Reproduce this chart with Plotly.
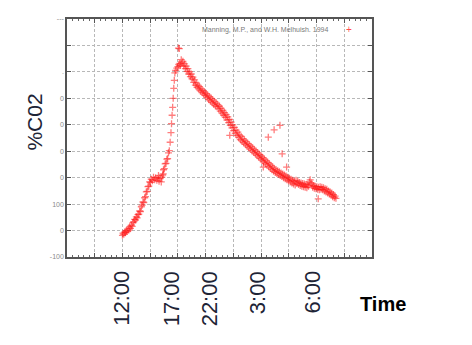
import plotly.graph_objects as go

# ---- data (x in grid units of the time axis, y in %CO2 axis units) ----
x_vals = [
    2.00, 2.02, 2.05, 2.08, 2.11, 2.14, 2.17, 2.20, 2.23, 2.26, 2.29, 2.32, 2.35, 2.38,
    2.41, 2.44, 2.47, 2.50, 2.53, 2.56, 2.59, 2.62, 2.65, 2.68, 2.71, 2.74, 2.77, 2.80,
    2.83, 2.86, 2.89, 2.92, 2.95, 2.98, 3.01, 3.04, 3.08, 3.12, 3.16, 3.20, 3.24, 3.28,
    3.32, 3.36, 3.40, 3.42, 3.45, 3.48, 3.51, 3.54, 3.57, 3.60, 3.63, 3.66, 3.69, 3.72,
    3.75, 3.77, 3.79, 3.81, 3.83, 3.85, 3.87, 3.89, 3.92, 3.96, 4.00, 4.02, 4.05, 4.03,
    4.07, 4.09, 4.12, 4.15, 4.18, 4.21, 4.24, 4.27, 4.30, 4.33, 4.36, 4.39, 4.42, 4.45,
    4.48, 4.51, 4.54, 4.57, 4.60, 4.63, 4.66, 4.69, 4.72, 4.75, 4.78, 4.81, 4.84, 4.87,
    4.90, 4.93, 4.96, 4.99, 5.02, 5.05, 5.08, 5.11, 5.14, 5.17, 5.20, 5.23, 5.26, 5.29,
    5.32, 5.35, 5.38, 5.41, 5.44, 5.47, 5.50, 5.53, 5.56, 5.59, 5.62, 5.65, 5.68, 5.71,
    5.74, 5.77, 5.80, 5.83, 5.86, 5.89, 5.92, 5.95, 5.98, 6.01, 6.04, 6.07, 6.10, 6.13,
    6.16, 6.19, 6.22, 6.25, 6.28, 6.31, 6.34, 6.37, 6.40, 6.43, 6.46, 6.49, 6.52, 6.55,
    6.58, 6.61, 6.64, 6.67, 6.70, 6.73, 6.76, 6.79, 6.82, 6.85, 6.88, 6.91, 6.94, 6.97,
    7.00, 7.03, 7.06, 7.09, 7.12, 7.15, 7.18, 7.21, 7.24, 7.27, 7.30, 7.33, 7.36, 7.39,
    7.42, 7.45, 7.48, 7.51, 7.54, 7.57, 7.60, 7.63, 7.66, 7.69, 7.72, 7.75, 7.78, 7.81,
    7.84, 7.87, 7.90, 7.93, 7.96, 7.99, 8.02, 8.05, 8.08, 8.11, 8.14, 8.17, 8.20, 8.23,
    8.26, 8.29, 8.32, 8.35, 8.38, 8.41, 8.44, 8.47, 8.50, 8.53, 8.56, 8.59, 8.62, 8.65,
    8.68, 8.71, 8.74, 8.77, 8.80, 8.83, 8.86, 8.89, 8.92, 8.95, 8.98, 9.01, 9.04, 9.07,
    9.10, 9.13, 9.16, 9.19, 9.22, 9.25, 9.28, 9.31, 9.34, 9.37, 9.40, 9.43, 9.46, 9.49,
    9.52, 9.55, 9.58, 9.61, 9.64, 9.67, 9.70,
    5.87, 7.26, 7.47, 7.68, 7.76, 7.08, 7.92, 9.06, 3.47, 3.30,
]
y_vals = [
    -18, -10, -14, -6, -8, 0, -4, 6, 2, 14, 8, 20, 16, 30,
    34, 42, 40, 52, 48, 60, 62, 74, 72, 90, 96, 108, 106, 124,
    128, 146, 148, 166, 168, 184, 182, 194, 188, 202, 192, 200, 190, 198,
    186, 196, 184, 202, 210, 230, 234, 252, 254, 270, 272, 294, 302, 334,
    370, 404, 436, 466, 500, 538, 568, 596, 606, 614, 620, 690, 688, 628,
    632, 624, 646, 634, 640, 622, 630, 612, 622, 602, 612, 592, 600, 582,
    592, 574, 580, 560, 570, 550, 558, 542, 550, 536, 544, 528, 536, 522,
    530, 516, 524, 510, 518, 504, 512, 496, 506, 490, 500, 484, 494, 478,
    488, 472, 482, 468, 476, 460, 470, 452, 462, 444, 454, 436, 446, 428,
    438, 418, 430, 408, 420, 398, 410, 388, 400, 378, 390, 368, 380, 360,
    372, 352, 362, 344, 356, 338, 348, 332, 342, 326, 336, 320, 330, 314,
    324, 308, 318, 302, 312, 296, 306, 290, 300, 284, 294, 278, 288, 272,
    282, 266, 276, 260, 270, 254, 264, 248, 258, 242, 252, 236, 246, 230,
    240, 224, 234, 220, 230, 216, 226, 212, 222, 208, 218, 204, 214, 200,
    210, 196, 206, 192, 202, 188, 198, 184, 194, 180, 190, 176, 186, 172,
    190, 178, 186, 174, 182, 170, 180, 168, 178, 166, 176, 164, 174, 162,
    172, 168, 184, 192, 180, 176, 164, 170, 160, 168, 158, 166, 156, 164,
    154, 166, 156, 164, 154, 162, 150, 158, 146, 156, 142, 150, 138, 146,
    134, 142, 128, 136, 124, 130, 122,
    360, 353, 381, 398, 290, 240, 240, 120, 214, 208,
]

y_tickvals = [-100, 0, 100, 200, 300, 400, 500, 600, 700, 800]
y_ticktext = ["-100", "0", "100", "0", "0", "0", "0", ".", "", "---"]

time_labels = ["12:00", "17:00", "22:00", "3:00", "6:00"]
time_label_pos = [1.96, 3.78, 5.12, 6.88, 8.84]

legend_text = "Manning, M.P., and W.H. Melhuish. 1994"

fig = go.Figure()
fig.add_trace(go.Scatter(
    x=x_vals, y=y_vals, mode="markers",
    marker=dict(symbol="cross-thin", size=5, color="rgba(255,0,0,0.55)",
                line=dict(width=1.3, color="rgba(255,20,20,0.55)")),
    showlegend=False, hoverinfo="skip",
))

axis_common = dict(
    showline=True, linecolor="#555", linewidth=1.5, mirror="ticks",
    ticks="inside", ticklen=4, tickcolor="#555",
    showgrid=True, gridcolor="#b8b8b8", gridwidth=1, griddash="3px,2px",
    zeroline=False,
)

fig.update_xaxes(range=[0, 11], dtick=1, tick0=0, showticklabels=False,
                 minor=dict(ticks="inside", ticklen=2, tickcolor="#666", nticks=5, showgrid=False),
                 **axis_common)
fig.update_yaxes(range=[-100, 800], tickvals=y_tickvals, ticktext=y_ticktext,
                 tickfont=dict(size=7, color="#8a8a8a", family="Liberation Sans"),
                 **axis_common)

annotations = []
for lab, pos in zip(time_labels, time_label_pos):
    annotations.append(dict(
        x=pos, xref="x", y=-0.05, yref="paper", text=lab, showarrow=False,
        textangle=-90, xanchor="center", yanchor="top",
        font=dict(family="Liberation Sans", size=22, color="#1e2436"),
    ))
annotations.append(dict(
    x=-0.105, xref="paper", y=0.569, yref="paper", text="%C02", showarrow=False,
    textangle=-90, xanchor="center", yanchor="middle",
    font=dict(family="Liberation Sans", size=21, color="#1e2436"),
))
annotations.append(dict(
    x=1.035, xref="paper", y=-0.198, yref="paper", text="<b>Time</b>", showarrow=False,
    xanchor="center", yanchor="middle",
    font=dict(family="Liberation Sans", size=20, color="#000"),
))
annotations.append(dict(
    x=0.862, xref="paper", y=0.954, yref="paper", text=legend_text, showarrow=False,
    xanchor="right", yanchor="middle",
    font=dict(family="Liberation Sans", size=7, color="#7a7a7a"),
))
annotations.append(dict(
    x=0.926, xref="paper", y=0.954, yref="paper", text="+", showarrow=False,
    xanchor="center", yanchor="middle",
    font=dict(family="Liberation Sans", size=10, color="rgba(255,0,0,0.7)"),
))

fig.update_layout(
    width=472, height=345,
    margin=dict(l=67, r=100, t=19, b=88),
    paper_bgcolor="white", plot_bgcolor="white",
    annotations=annotations,
)

fig.write_html("out.html")
